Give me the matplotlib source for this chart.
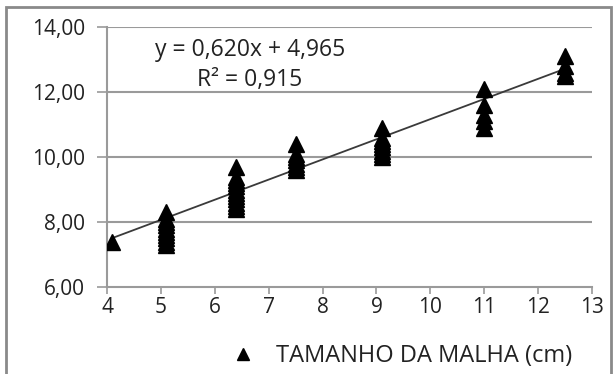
import numpy as np
import matplotlib.pyplot as plt
from matplotlib.patches import Rectangle

# Mesh size (cm) and measured values, one list per mesh size
mesh_sizes = [4.1, 5.1, 6.4, 7.5, 9.1, 11.0, 12.5]
values = [
    [7.4],
    [7.3, 7.4, 7.5, 7.6, 7.7, 7.8, 7.9, 8.0, 8.1, 8.3],
    [8.4, 8.5, 8.6, 8.7, 8.8, 8.9, 9.0, 9.1, 9.2, 9.3, 9.4, 9.7],
    [9.6, 9.7, 9.8, 9.9, 10.0, 10.1, 10.4],
    [10.0, 10.1, 10.2, 10.3, 10.4, 10.5, 10.6, 10.9],
    [10.9, 11.1, 11.3, 11.6, 12.1],
    [12.5, 12.6, 12.8, 13.1],
]

slope = 0.620
intercept = 4.965
r2 = 0.915

x_ticks = [4, 5, 6, 7, 8, 9, 10, 11, 12, 13]
y_ticks = [6, 8, 10, 12, 14]
y_tick_labels = ["6,00", "8,00", "10,00", "12,00", "14,00"]
series_label = "TAMANHO DA MALHA (cm)"

plt.rcParams["font.family"] = ["Open Sans", "DejaVu Sans"]

fig = plt.figure(figsize=(6.16, 3.74), dpi=100)
ax = fig.add_axes([107 / 616, 1 - 287 / 374, 485 / 616, 260 / 374])

# flatten the clusters into x / y
xs = np.concatenate([[x] * len(v) for x, v in zip(mesh_sizes, values)])
ys = np.concatenate(values)

grid_col = "#9a9a9a"
ax.set_xlim(4, 13)
ax.set_ylim(6, 14)
for yv in y_ticks[1:]:
    ax.axhline(yv, color=grid_col, lw=1.5, zorder=1)

# trendline over the data range
xl = np.array([min(mesh_sizes), max(mesh_sizes)])
ax.plot(xl, slope * xl + intercept, color="#3a3a3a", lw=1.3, zorder=2)

ax.plot(xs, ys, linestyle="none", marker="^", ms=12, color="black",
        label=series_label, zorder=3)

ax.text(0.295, 0.91, "y = 0,620x + 4,965", transform=ax.transAxes,
        ha="center", va="center", fontsize=16.5, color="#222222")
ax.text(0.295, 0.795, "R\u00b2 = 0,915", transform=ax.transAxes,
        ha="center", va="center", fontsize=16.5, color="#222222")

ax.set_xticks(x_ticks)
ax.set_yticks(y_ticks)
ax.set_yticklabels(y_tick_labels)
ax.tick_params(axis="both", direction="out", width=1.2, color=grid_col,
               labelsize=15, labelcolor="#222222")
ax.tick_params(axis="x", length=5, pad=2)
ax.tick_params(axis="y", length=7, pad=9)

for side in ["top", "right"]:
    ax.spines[side].set_visible(False)
for side in ["left", "bottom"]:
    ax.spines[side].set_color(grid_col)
    ax.spines[side].set_linewidth(1.5)

leg = fig.legend(loc="center", bbox_to_anchor=(0.652, 0.048), frameon=False,
                 fontsize=17, handletextpad=0.9, handlelength=1.0,
                 markerscale=0.75, labelcolor="#222222")

# outer chart border
fig.add_artist(Rectangle((6 / 616, -0.05), 605 / 616, 1 - 7 / 374 + 0.05,
                         transform=fig.transFigure, fill=False,
                         edgecolor="#8a8a8a", lw=2))

fig.savefig("out.png", dpi=100)
